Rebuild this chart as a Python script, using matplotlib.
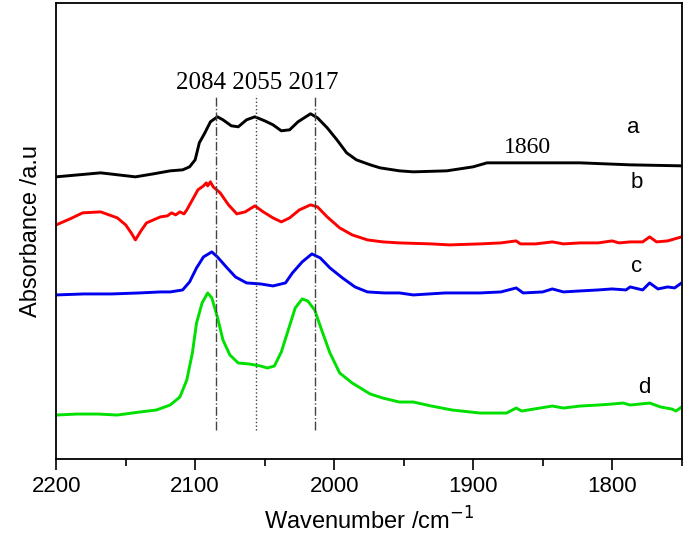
import matplotlib
matplotlib.use("Agg")
import matplotlib.pyplot as plt
from matplotlib.ticker import MultipleLocator

# FTIR spectra (wavenumber in cm-1, absorbance in arbitrary offset units)
wn_a = [2200, 2168, 2143, 2130, 2118, 2109, 2104, 2100, 2097, 2093, 2089, 2084, 2080,
        2074, 2069, 2063, 2057, 2050, 2044, 2038, 2032, 2026, 2017, 2012, 2005, 1998,
        1991, 1984, 1974, 1967, 1953, 1943, 1919, 1900, 1890, 1859, 1823, 1787, 1750]
abs_a = [2.82, 2.86, 2.82, 2.85, 2.88, 2.89, 2.92, 2.99, 3.16, 3.26, 3.37, 3.42, 3.39,
         3.33, 3.32, 3.39, 3.42, 3.38, 3.34, 3.28, 3.29, 3.37, 3.45, 3.41, 3.31, 3.19,
         3.06, 2.99, 2.94, 2.91, 2.88, 2.87, 2.88, 2.92, 2.96, 2.96, 2.96, 2.94, 2.93]

wn_b = [2200, 2190, 2181, 2168, 2156, 2150, 2146, 2143, 2139, 2135, 2125, 2120, 2117,
        2114, 2111, 2108, 2106, 2102, 2098, 2094, 2092, 2091, 2089, 2087, 2082, 2076,
        2070, 2064, 2057, 2051, 2044, 2038, 2032, 2025, 2017, 2012, 2005, 1996, 1987,
        1976, 1965, 1953, 1930, 1917, 1895, 1880, 1869, 1866, 1855, 1843, 1835, 1823,
        1810, 1800, 1795, 1787, 1778, 1773, 1768, 1760, 1750]
abs_b = [2.34, 2.40, 2.46, 2.47, 2.41, 2.34, 2.26, 2.19, 2.28, 2.36, 2.42, 2.43, 2.46,
         2.44, 2.47, 2.45, 2.49, 2.59, 2.69, 2.73, 2.76, 2.73, 2.77, 2.72, 2.66, 2.54,
         2.45, 2.47, 2.53, 2.47, 2.41, 2.37, 2.41, 2.49, 2.54, 2.52, 2.42, 2.31, 2.24,
         2.19, 2.17, 2.16, 2.15, 2.14, 2.15, 2.16, 2.18, 2.15, 2.15, 2.17, 2.15, 2.16,
         2.16, 2.18, 2.16, 2.17, 2.17, 2.22, 2.17, 2.18, 2.22]

wn_c = [2200, 2180, 2160, 2140, 2125, 2118, 2109, 2104, 2099, 2094, 2088, 2084, 2077,
        2071, 2063, 2053, 2044, 2035, 2030, 2023, 2016, 2010, 2003, 1994, 1985, 1976,
        1964, 1953, 1943, 1920, 1895, 1880, 1869, 1864, 1850, 1843, 1835, 1823, 1810,
        1800, 1790, 1787, 1778, 1773, 1767, 1760, 1755, 1750]
abs_c = [1.64, 1.65, 1.65, 1.66, 1.67, 1.67, 1.69, 1.77, 1.91, 2.02, 2.07, 2.02, 1.91,
         1.82, 1.76, 1.75, 1.73, 1.76, 1.86, 1.97, 2.05, 2.01, 1.91, 1.81, 1.72, 1.67,
         1.66, 1.66, 1.64, 1.66, 1.66, 1.67, 1.71, 1.66, 1.67, 1.70, 1.67, 1.68, 1.69,
         1.70, 1.69, 1.72, 1.69, 1.76, 1.70, 1.72, 1.71, 1.76]

wn_d = [2200, 2185, 2170, 2156, 2140, 2128, 2118, 2111, 2106, 2102, 2099, 2095, 2091,
        2088, 2084, 2080, 2075, 2069, 2061, 2053, 2048, 2043, 2038, 2033, 2028, 2023,
        2019, 2014, 2009, 2003, 1996, 1987, 1974, 1965, 1953, 1943, 1930, 1915, 1895,
        1876, 1869, 1865, 1843, 1835, 1823, 1810, 1800, 1792, 1787, 1773, 1765, 1757,
        1754, 1750]
abs_d = [0.44, 0.45, 0.45, 0.44, 0.47, 0.49, 0.54, 0.62, 0.79, 1.06, 1.36, 1.56, 1.66,
         1.61, 1.42, 1.19, 1.04, 0.96, 0.95, 0.93, 0.91, 0.93, 1.07, 1.29, 1.51, 1.60,
         1.58, 1.49, 1.29, 1.06, 0.86, 0.76, 0.65, 0.61, 0.57, 0.57, 0.53, 0.49, 0.46,
         0.46, 0.51, 0.48, 0.53, 0.51, 0.53, 0.54, 0.55, 0.56, 0.54, 0.56, 0.52, 0.50,
         0.48, 0.52]

peak_pos = [2085, 2056, 2014]
peak_styles = ["-.", ":", "-."]
peak_text = "2084 2055 2017"

plt.figure(figsize=(6.85, 5.42), dpi=100)
ax = plt.axes([0.082, 0.153, 0.913, 0.842])

ax.plot(wn_a, abs_a, color="black", lw=2.1)
ax.plot(wn_b, abs_b, color="#ff0000", lw=2.1)
ax.plot(wn_c, abs_c, color="#0000ee", lw=2.1)
ax.plot(wn_d, abs_d, color="#00e000", lw=2.1)

for pos, ls in zip(peak_pos, peak_styles):
    ax.plot([pos, pos], [0.29, 3.64], color="#444444", lw=1.0, ls=ls)

ax.text(2055, 3.76, peak_text, family="Liberation Serif", fontsize=18,
        ha="center", va="center")
ax.text(1861, 3.11, "1860", family="Liberation Serif", fontsize=17,
        ha="center", va="center")

for lbl, xx, yy in [("a", 1785, 3.31), ("b", 1782, 2.76), ("c", 1782, 1.92), ("d", 1777, 0.72)]:
    ax.text(xx, yy, lbl, family="Liberation Sans", fontsize=16, ha="center", va="center")

ax.set_xlim(2200, 1750)
ax.set_ylim(0, 4.56)
ax.xaxis.set_major_locator(MultipleLocator(100))
ax.xaxis.set_minor_locator(MultipleLocator(50))
ax.tick_params(axis="x", which="major", direction="out", length=8, width=1.2,
               labelsize=16, pad=4)
ax.tick_params(axis="x", which="minor", direction="out", length=5, width=1.2)
for lab in ax.get_xticklabels():
    lab.set_family("Liberation Sans")
ax.set_yticks([])
for sp in ax.spines.values():
    sp.set_linewidth(1.3)

ax.set_xlabel("Wavenumber /cm$^{-1}$", family="Liberation Sans", fontsize=17, labelpad=8)
ax.set_ylabel("Absorbance /a.u", family="Liberation Sans", fontsize=17, labelpad=10)

plt.savefig("out.png", dpi=100)
